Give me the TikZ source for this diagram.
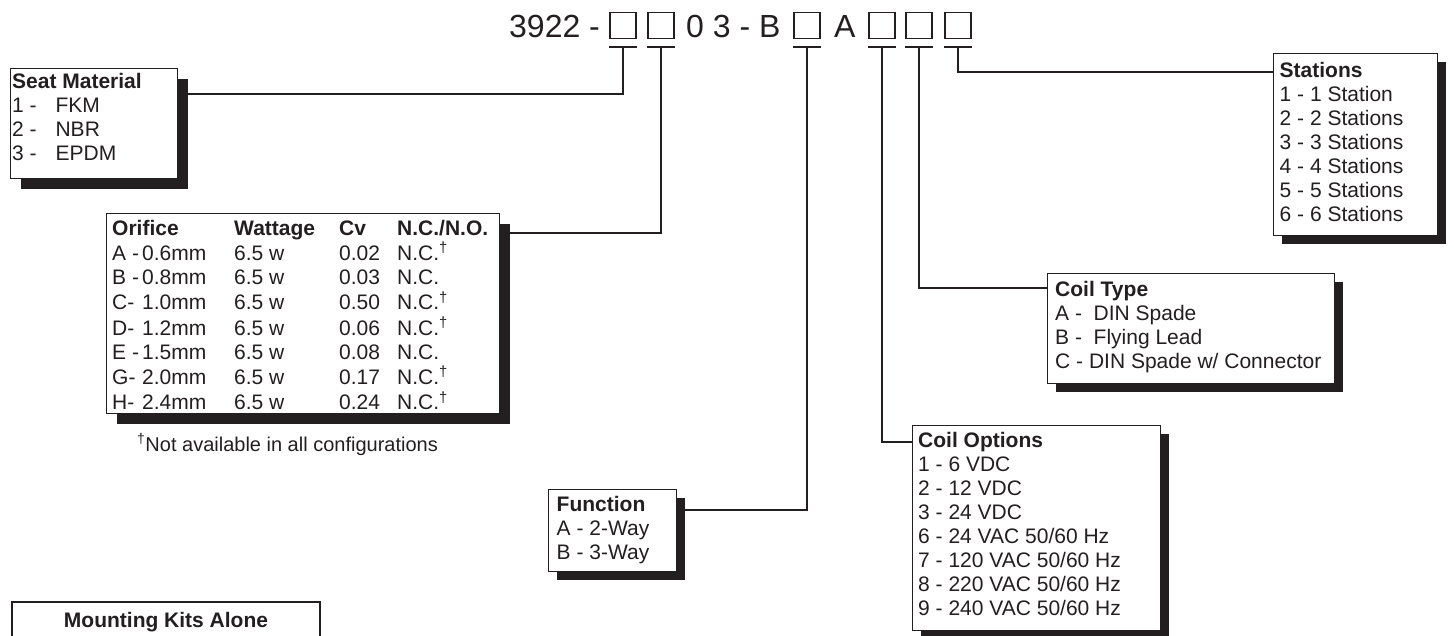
\documentclass[tikz,border=0pt]{standalone}
\usepackage{fontspec}
\setmainfont{Liberation Sans}
\usepackage{tikz}
\usetikzlibrary{positioning, shadows, calc}
\definecolor{cInk}{HTML}{231F20}
\newcommand{\optfont}{\fontsize{21}{24}\selectfont}
\tikzset{
  panel/.style={
    rectangle, draw=cInk, line width=1.2pt, fill=white,
    anchor=north west, inner sep=0pt,
    drop shadow={shadow xshift=#1, shadow yshift=-#1, fill=cInk, opacity=1}
  },
  panel/.default=8pt,
  entry/.style={inner sep=0pt, align=left, font=\optfont, text=cInk},
  slot/.style={rectangle, draw=cInk, line width=1.3pt, minimum size=26pt, inner sep=0pt},
  code/.style={inner sep=0pt, anchor=base west, font=\fontsize{32}{38}\selectfont, text=cInk},
  lead/.style={line width=2pt, draw=cInk},
}

\begin{document}
\begin{tikzpicture}[x=1pt, y=-1pt]
  \useasboundingbox (0,0) rectangle (1454,635);

  % Part number
  \node[code] (num) at (509,37.5) {3922 -};
  \node[slot] (s1) at (623,25.5) {};
  \node[slot] (s2) at (661,25.5) {};
  \node[code] (mid) at (686,37.5) {0 3 - B};
  \node[slot] (s3) at (807,25.5) {};
  \node[code] (fix) at (834,37.5) {A};
  \node[slot] (s4) at (882,25.5) {};
  \node[slot] (s5) at (919,25.5) {};
  \node[slot] (s6) at (958,25.5) {};

  % Seat material
  \node[panel=10pt, minimum width=167pt, minimum height=110pt] (seat) at (10,68) {};
  \node[entry, below right=3pt and 2pt of seat.north west] (seattext) {%
    \strut\textbf{Seat Material}\\
    1 -\hspace{0.9em}FKM\\
    2 -\hspace{0.9em}NBR\\
    3 -\hspace{0.9em}EPDM};

  % Orifice table
  \node[panel=10pt, minimum width=393pt, minimum height=200pt] (orif) at (106,213) {};
  \node[entry, below right=5pt and 6pt of orif.north west] (oriftext) {%
    \begin{tabular}{@{}p{122pt}@{}p{105pt}@{}p{58pt}@{}l@{}}
      \textbf{Orifice} & \textbf{Wattage} & \textbf{Cv} & \textbf{N.C./N.O.}\\
      \makebox[30pt][l]{A -}0.6mm & 6.5 w & 0.02 & N.C.\textsuperscript{†}\\
      \makebox[30pt][l]{B -}0.8mm & 6.5 w & 0.03 & N.C.\\
      \makebox[30pt][l]{C-}1.0mm & 6.5 w & 0.50 & N.C.\textsuperscript{†}\\
      \makebox[30pt][l]{D-}1.2mm & 6.5 w & 0.06 & N.C.\textsuperscript{†}\\
      \makebox[30pt][l]{E -}1.5mm & 6.5 w & 0.08 & N.C.\\
      \makebox[30pt][l]{G-}2.0mm & 6.5 w & 0.17 & N.C.\textsuperscript{†}\\
      \makebox[30pt][l]{H-}2.4mm & 6.5 w & 0.24 & N.C.\textsuperscript{†}
    \end{tabular}};
  \node[entry, anchor=base west, font=\fontsize{20}{24}\selectfont] (note)
    at ([xshift=31pt, yshift=-37pt]orif.south west)
    {\textsuperscript{†}Not available in all configurations};

  % Function
  \node[panel, minimum width=128pt, minimum height=82pt] (func) at (548,489) {};
  \node[entry, below right=5pt and 8.5pt of func.north west] (functext) {%
    \strut\textbf{Function}\\
    A - 2-Way\\
    B - 3-Way};

  % Stations
  \node[panel, minimum width=164pt, minimum height=182pt] (stat) at (1273,53) {};
  \node[entry, below right=7pt and 6.5pt of stat.north west] (stattext) {%
    \strut\textbf{Stations}\\
    1 - 1 Station\\
    2 - 2 Stations\\
    3 - 3 Stations\\
    4 - 4 Stations\\
    5 - 5 Stations\\
    6 - 6 Stations};

  % Coil type
  \node[panel, minimum width=287pt, minimum height=110pt] (ctype) at (1047,273) {};
  \node[entry, below right=6pt and 8pt of ctype.north west] (ctypetext) {%
    \strut\textbf{Coil Type}\\
    A -\ \ DIN Spade\\
    B -\ \ Flying Lead\\
    C - DIN Spade w/ Connector};

  % Coil options
  \node[panel, minimum width=248pt, minimum height=205pt] (opts) at (912,425) {};
  \node[entry, below right=5pt and 6pt of opts.north west] (optstext) {%
    \strut\textbf{Coil Options}\\
    1 - 6 VDC\\
    2 - 12 VDC\\
    3 - 24 VDC\\
    6 - 24 VAC 50/60 Hz\\
    7 - 120 VAC 50/60 Hz\\
    8 - 220 VAC 50/60 Hz\\
    9 - 240 VAC 50/60 Hz};

  % Mounting kits
  \node[rectangle, draw=cInk, line width=2pt, anchor=north west, inner sep=0pt,
        minimum width=308pt, minimum height=60pt] (mount) at (11,601) {};
  \node[entry, anchor=base, font=\fontsize{21}{24}\selectfont\bfseries]
    (mounttitle) at ([yshift=-26pt]mount.north) {Mounting Kits Alone};

  % Leads from the slots
  \foreach \s in {s1,s2,s3,s4,s5,s6}
    \draw[lead] ([yshift=-8pt]\s.south west) -- ([yshift=-8pt]\s.south east);
  \draw[lead] ([yshift=-8pt]s1.south) |- ([yshift=-26pt]seat.north east);
  \draw[lead] ([yshift=-8pt]s2.south) |- ([yshift=-20pt]orif.north east);
  \draw[lead] ([yshift=-8pt]s3.south) |- ([yshift=-21pt]func.north east);
  \draw[lead] ([yshift=-8pt]s4.south) |- ([yshift=-17pt]opts.north west);
  \draw[lead] ([yshift=-8pt]s5.south) |- ([yshift=-15pt]ctype.north west);
  \draw[lead] ([yshift=-8pt]s6.south) |- ([yshift=-19pt]stat.north west);

\end{tikzpicture}
\end{document}
